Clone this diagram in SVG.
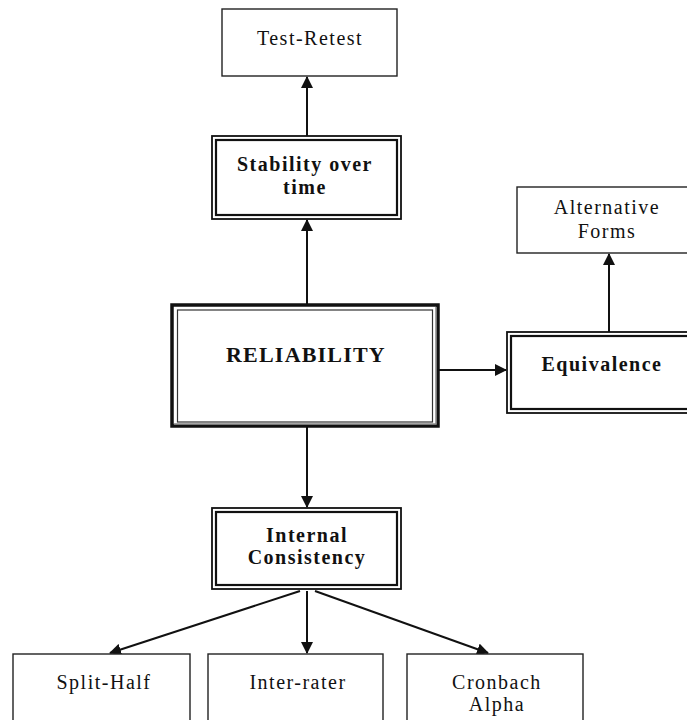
<svg xmlns="http://www.w3.org/2000/svg" width="687" height="720" viewBox="0 0 687 720">
<style>
.bg{fill:#fff}
.box{fill:#fff;stroke:#222;stroke-width:1.4}
.dout{fill:#fff;stroke:#111;stroke-width:1.8}
.din{fill:none;stroke:#111;stroke-width:2.2}
.t{font-family:"Liberation Serif","Times New Roman",serif;font-size:20px;letter-spacing:1.5px;fill:#111;text-anchor:middle}
.b{font-weight:bold}
.conn{stroke:#111;stroke-width:2;fill:none;marker-end:url(#ah)}
</style>
<defs>
<marker id="ah" markerUnits="userSpaceOnUse" markerWidth="12" markerHeight="12" refX="11" refY="6" orient="auto">
<path d="M0,0 L12,6 L0,12 z" fill="#111"/>
</marker>
</defs>
<rect class="bg" x="0" y="0" width="687" height="720"/>
<g id="connectors">
<line class="conn" x1="307" y1="136" x2="307" y2="77"/>
<line class="conn" x1="307" y1="304" x2="307" y2="220"/>
<line class="conn" x1="439" y1="370" x2="506" y2="370"/>
<line class="conn" x1="609" y1="332" x2="609" y2="254"/>
<line class="conn" x1="307" y1="427" x2="307" y2="507"/>
<line class="conn" x1="300" y1="591" x2="110" y2="653"/>
<line class="conn" x1="307" y1="591" x2="307" y2="653"/>
<line class="conn" x1="315" y1="591" x2="488" y2="653"/>
</g>
<g id="test-retest">
<rect class="box" x="222" y="9" width="175" height="67"/>
<text class="t" x="310" y="45">Test-Retest</text>
</g>
<g id="stability">
<rect class="dout" x="212" y="136" width="189" height="83"/>
<rect class="din" x="216" y="140" width="181" height="75"/>
<text class="t b" x="305" y="171">Stability over</text>
<text class="t b" x="305" y="194">time</text>
</g>
<g id="reliability">
<rect fill="#fff" stroke="#111" stroke-width="3.5" x="172" y="305" width="266" height="121"/>
<path d="M436,307 V424 H174" fill="none" stroke="#888" stroke-width="1.5"/>
<rect fill="none" stroke="#333" stroke-width="1.2" x="177.5" y="310" width="255" height="112"/>
<text class="t b" x="306" y="362" style="font-size:22px;letter-spacing:1.2px">RELIABILITY</text>
</g>
<g id="equivalence">
<rect class="dout" x="507" y="332" width="200" height="81"/>
<rect class="din" x="511" y="336" width="192" height="73"/>
<text class="t b" x="602" y="371">Equivalence</text>
</g>
<g id="alternative-forms">
<rect class="box" x="517" y="187" width="190" height="66"/>
<text class="t" x="607" y="214">Alternative</text>
<text class="t" x="607" y="238">Forms</text>
</g>
<g id="internal-consistency">
<rect class="dout" x="212" y="508" width="189" height="81"/>
<rect class="din" x="216" y="512" width="181" height="73"/>
<text class="t b" x="307" y="542">Internal</text>
<text class="t b" x="307" y="564">Consistency</text>
</g>
<g id="split-half">
<rect class="box" x="13" y="654" width="177" height="80"/>
<text class="t" x="104" y="689">Split-Half</text>
</g>
<g id="inter-rater">
<rect class="box" x="208" y="654" width="175" height="80"/>
<text class="t" x="298" y="689">Inter-rater</text>
</g>
<g id="cronbach-alpha">
<rect class="box" x="407" y="654" width="176" height="80"/>
<text class="t" x="497" y="689">Cronbach</text>
<text class="t" x="497" y="711">Alpha</text>
</g>
</svg>
